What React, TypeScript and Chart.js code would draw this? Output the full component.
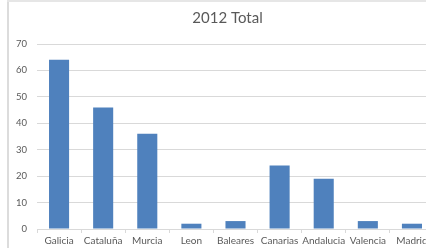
import React, { useEffect, useRef } from "react";
import { Chart, registerables } from "chart.js";

Chart.register(...registerables);

const categories = ["Galicia", "Cataluña", "Murcia", "Leon", "Baleares", "Canarias", "Andalucia", "Valencia", "Madrid"];
const totals2012 = [64, 46, 36, 2, 3, 24, 19, 3, 2];
const yTicks = [0, 10, 20, 30, 40, 50, 60, 70];
const chartTitle = "2012 Total";

const shiftTitle = {
  id: "shiftTitle",
  afterLayout(chart: any) {
    const t = chart.titleBlock;
    if (t) t.left = 21;
  },
};

export default function App() {
  const ref = useRef<HTMLCanvasElement | null>(null);

  useEffect(() => {
    if (!ref.current) return;
    const chart = new Chart(ref.current, {
      type: "bar",
      data: {
        labels: categories,
        datasets: [
          {
            label: chartTitle,
            data: totals2012,
            backgroundColor: "#4f81bd",
            borderWidth: 0,
            barPercentage: 0.455,
            categoryPercentage: 1,
          },
        ],
      },
      plugins: [shiftTitle],
      options: {
        animation: false,
        responsive: false,
        devicePixelRatio: 1,
        layout: { padding: { left: 0, right: 14, top: 0, bottom: -1 } },
        plugins: {
          legend: { display: false },
          tooltip: { enabled: false },
          title: {
            display: true,
            text: chartTitle,
            color: "#595959",
            font: { family: "Lato", size: 15, weight: "normal" },
            padding: { top: 9, bottom: 17 },
          },
        },
        scales: {
          x: {
            grid: {
              offset: true,
              drawOnChartArea: false,
              drawTicks: true,
              tickLength: 4,
              color: "#d9d9d9",
            },
            border: { display: true, color: "#d9d9d9" },
            ticks: {
              color: "#595959",
              font: { family: "Lato", size: 10 },
              padding: 2,
              maxRotation: 0,
              autoSkip: false,
            },
          },
          y: {
            min: 0,
            max: 70,
            afterFit: (scale: any) => {
              scale.width = 37;
            },
            afterBuildTicks: (scale: any) => {
              scale.ticks = yTicks.map((v) => ({ value: v }));
            },
            grid: { color: "#d9d9d9", drawTicks: false },
            border: { display: false },
            ticks: {
              color: "#595959",
              font: { family: "Lato", size: 9.5 },
              padding: 10,
            },
          },
        },
      },
    });
    return () => chart.destroy();
  }, []);

  return (
    <div
      style={{
        position: "fixed",
        left: 0,
        top: 0,
        width: 426,
        height: 248,
        overflow: "hidden",
        background: "#fff",
      }}
    >
      <canvas ref={ref} width={448} height={248} style={{ position: "absolute", left: 0, top: 0 }} />
      <div style={{ position: "absolute", left: 7, top: 0, width: 2, height: 248, background: "#dcdcdc" }} />
      <div style={{ position: "absolute", left: 7, top: 0, width: 419, height: 2, background: "#e6e6e6" }} />
    </div>
  );
}
